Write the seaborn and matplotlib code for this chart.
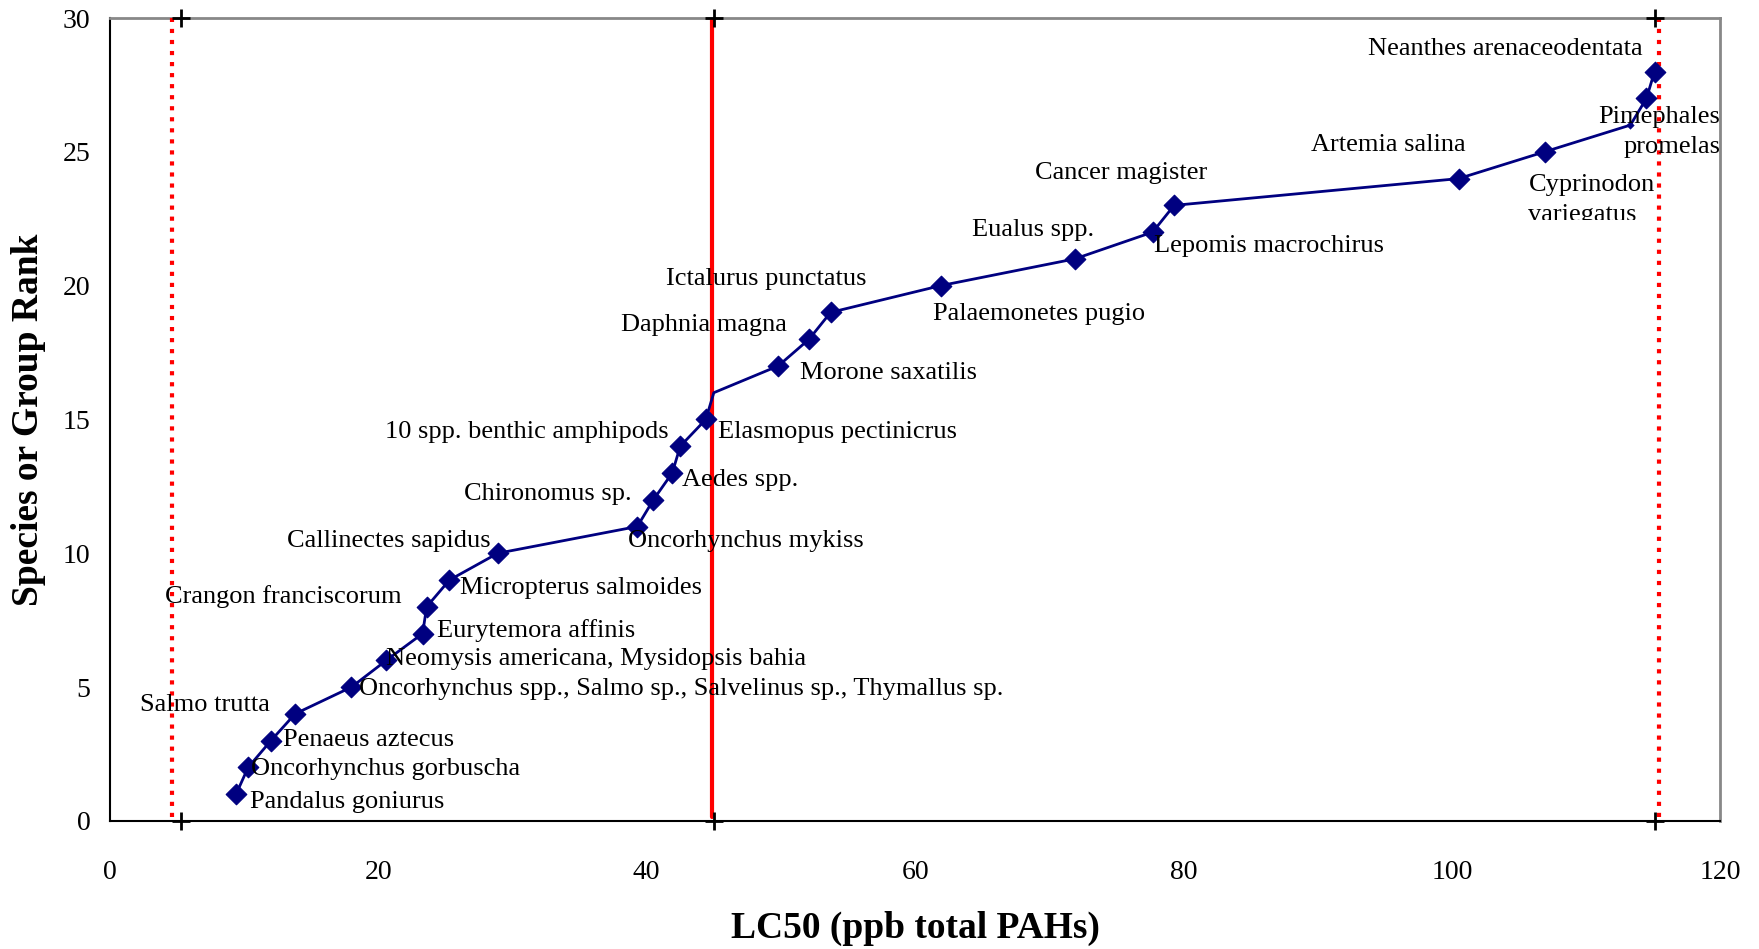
import matplotlib
matplotlib.use("Agg")
import matplotlib.pyplot as plt
import seaborn as sns
import pandas as pd
from matplotlib.transforms import Bbox, TransformedBbox

# Species sensitivity data (LC50 in ppb total PAHs, rank)
lc50 = [9.4, 10.3, 12.0, 13.8, 18.0, 20.6, 23.3, 23.6, 25.3, 28.9,
        39.3, 40.5, 41.9, 42.5, 44.4, 45.0, 49.8, 52.1, 53.7, 61.9,
        71.9, 77.7, 79.3, 100.5, 106.9, 113.3, 114.5, 115.1]
rank = list(range(1, 29))
has_marker = [True] * 15 + [False] + [True] * 9 + [False] + [True] * 2

# Reference lines (dotted = bounds, solid = central value)
line_x = [4.6, 44.9, 115.4]
line_style = ['dotted', 'solid', 'dotted']
cross_x = [5.3, 45.0, 115.1]

labels = [
    ("Neanthes arenaceodentata", 114.2, 28.95, 'right'),
    ("Pimephales\npromelas", 120.0, 25.87, 'right'),
    ("Artemia salina", 95.25, 25.39, 'center'),
    ("Cancer magister", 75.35, 24.34, 'center'),
    ("Eualus spp.", 68.8, 22.21, 'center'),
    ("Lepomis macrochirus", 77.77, 21.62, 'left'),
    ("Ictalurus punctatus", 48.9, 20.36, 'center'),
    ("Palaemonetes pugio", 61.3, 19.06, 'left'),
    ("Daphnia magna", 44.3, 18.64, 'center'),
    ("Morone saxatilis", 51.4, 16.84, 'left'),
    ("10 spp. benthic amphipods", 41.65, 14.66, 'right'),
    ("Elasmopus pectinicrus", 45.3, 14.66, 'left'),
    ("Aedes spp.", 42.65, 12.86, 'left'),
    ("Chironomus sp.", 38.9, 12.32, 'right'),
    ("Callinectes sapidus", 28.35, 10.56, 'right'),
    ("Oncorhynchus mykiss", 38.6, 10.56, 'left'),
    ("Micropterus salmoides", 26.1, 8.84, 'left'),
    ("Crangon franciscorum", 4.1, 8.51, 'left'),
    ("Eurytemora affinis", 24.4, 7.25, 'left'),
    ("Neomysis americana, Mysidopsis bahia", 20.57, 6.16, 'left'),
    ("Oncorhynchus spp., Salmo sp., Salvelinus sp., Thymallus sp.", 18.56, 5.03, 'left'),
    ("Salmo trutta", 2.26, 4.44, 'left'),
    ("Penaeus aztecus", 12.88, 3.14, 'left'),
    ("Oncorhynchus gorbuscha", 10.54, 2.05, 'left'),
    ("Pandalus goniurus", 10.45, 0.84, 'left'),
]

df = pd.DataFrame({'LC50': lc50, 'Rank': rank, 'marker': has_marker})

sns.set_style("white")
plt.rcParams['font.family'] = ['Liberation Serif', 'DejaVu Serif']
plt.rcParams['text.color'] = 'black'
plt.rcParams['axes.labelcolor'] = 'black'
plt.rcParams['xtick.color'] = 'black'
plt.rcParams['ytick.color'] = 'black'

fig = plt.figure(figsize=(17.59, 9.49), dpi=100)
ax = fig.add_axes([0.0625, 0.135, 0.9155, 0.846])

# Reference lines
for x, ls in zip(line_x, line_style):
    ax.axvline(x, ymin=0.005, ymax=1.0, color='red', lw=3.0, linestyle=ls, zorder=3)

# Sensitivity curve
sns.lineplot(data=df, x='LC50', y='Rank', sort=False, estimator=None,
             color='#000080', lw=2.0, ax=ax, zorder=4)
sns.scatterplot(data=df[df['marker']], x='LC50', y='Rank', marker='D', s=110,
                color='#000080', edgecolor='#000080', ax=ax, zorder=5)
sns.scatterplot(data=df[~df['marker']].iloc[1:], x='LC50', y='Rank', marker='D', s=15,
                color='#000080', edgecolor='#000080', ax=ax, zorder=5)

# Cross markers at top and bottom of the reference lines
for yv in (0, 30):
    ax.plot(cross_x, [yv] * len(cross_x), linestyle='none', marker='+', ms=13,
            mew=2, color='black', clip_on=False, zorder=6)

for text, x, y, ha in labels:
    ax.text(x, y - 0.12, text, ha=ha, va='center', fontsize=19, multialignment=ha,
            linespacing=1.5, zorder=7)

t = ax.text(105.7, 23.2, "Cyprinodon\nvariegatus", ha='left', va='center',
            fontsize=19, multialignment='left', linespacing=1.5, zorder=7)
t.set_clip_box(TransformedBbox(Bbox([[100, 22.45], [120, 30]]), ax.transData))
t.set_clip_on(True)

ax.set_xlim(0, 120)
ax.set_ylim(0, 30)
ax.set_xticks(range(0, 121, 20))
ax.set_yticks(range(0, 31, 5))
ax.tick_params(axis='both', direction='out', length=8, width=1.2, color='black',
               labelsize=20)
ax.tick_params(axis='x', pad=20)
ax.tick_params(axis='y', pad=6)

for side in ['top', 'right']:
    ax.spines[side].set_color('#888888')
    ax.spines[side].set_linewidth(2)
for side in ['left', 'bottom']:
    ax.spines[side].set_color('black')
    ax.spines[side].set_linewidth(1.5)

ax.set_xlabel('LC50 (ppb total PAHs)', fontsize=27, fontweight='bold', labelpad=19)
ax.set_ylabel('Species or Group Rank', fontsize=27, fontweight='bold', labelpad=12)

fig.savefig('out.png', dpi=100)
plt.close()
